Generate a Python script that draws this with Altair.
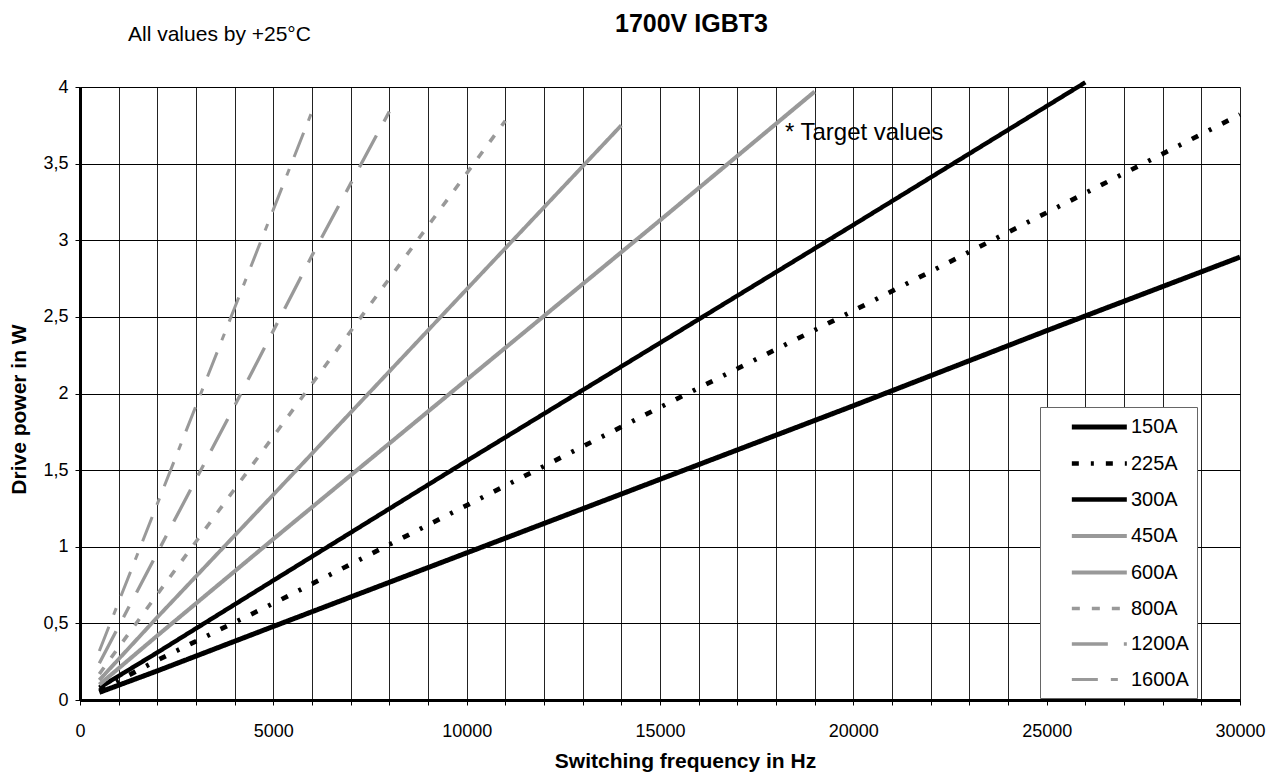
import altair as alt
import pandas as pd

FONT = "Liberation Sans"

series = ["150A", "225A", "300A", "450A", "600A", "800A", "1200A", "1600A"]

freq_150 = [500, 2000, 5000, 10000, 15000, 20000, 25000, 30000]
pow_150 = [0.05, 0.19, 0.48, 0.96, 1.44, 1.92, 2.41, 2.89]
freq_225 = [500, 2000, 5000, 10000, 15000, 20000, 25000, 30000]
pow_225 = [0.06, 0.26, 0.63, 1.27, 1.91, 2.54, 3.18, 3.82]
freq_300 = [500, 2000, 5000, 10000, 15000, 20000, 26000]
pow_300 = [0.08, 0.31, 0.78, 1.56, 2.33, 3.10, 4.03]
freq_450 = [500, 2000, 5000, 10000, 15000, 19000]
pow_450 = [0.10, 0.42, 1.05, 2.09, 3.13, 3.97]
freq_600 = [500, 2000, 5000, 10000, 14000]
pow_600 = [0.13, 0.54, 1.34, 2.68, 3.75]
freq_800 = [500, 2000, 5000, 8000, 11000]
pow_800 = [0.17, 0.69, 1.72, 2.75, 3.78]
freq_1200 = [500, 2000, 4000, 6000, 8000]
pow_1200 = [0.24, 0.96, 1.92, 2.90, 3.84]
freq_1600 = [500, 2000, 4000, 6000]
pow_1600 = [0.32, 1.28, 2.56, 3.84]

line_colors = ["#000000", "#000000", "#000000", "#999999", "#999999", "#999999", "#999999", "#999999"]
line_widths = [5, 3, 2.2, 2.2, 4.5, 2.5, 5, 3]
line_dashes = [[1, 0], [7, 12, 3, 12], [1, 0], [1, 0], [1, 0], [8, 12], [36, 16, 12, 16], [26, 13, 7, 13]]

x_grid_values = list(range(0, 30001, 1000))
y_values = [0, 0.5, 1, 1.5, 2, 2.5, 3, 3.5, 4]

title_text = "1700V IGBT3"
subtitle_text = "All values by +25°C"
note_text = "* Target values"
note_x = 18230
note_y = 3.655

all_f = [freq_150, freq_225, freq_300, freq_450, freq_600, freq_800, freq_1200, freq_1600]
all_p = [pow_150, pow_225, pow_300, pow_450, pow_600, pow_800, pow_1200, pow_1600]
rows = []
for s, fs, ps in zip(series, all_f, all_p):
    for f, p in zip(fs, ps):
        rows.append({"series": s, "f": f, "p": p})
df = pd.DataFrame(rows)

x_scale = alt.Scale(domain=[0, 30000], nice=False, zero=False)
y_scale = alt.Scale(domain=[0, 4], nice=False)

lines = alt.Chart(df).mark_line(clip=False).encode(
    x=alt.X("f:Q", scale=x_scale, axis=alt.Axis(
        values=x_grid_values, tickCount=40,
        labelExpr="datum.value % 5000 == 0 ? toString(datum.value) : ''",
        title="Switching frequency in Hz",
        titleX=605, titleY=67, titleBaseline="alphabetic",
        titleFontSize=21, titleFontWeight="bold", titleFont=FONT, titleColor="black",
        labelFontSize=18, labelFont=FONT, labelColor="black",
        labelPadding=17, labelFlush=False, labelOverlap=False,
        tickSize=5, tickColor="black", grid=True, gridColor="#222222", gridWidth=1,
        domain=True, domainColor="black", domainWidth=3,
    )),
    y=alt.Y("p:Q", scale=y_scale, axis=alt.Axis(
        values=y_values, tickCount=20,
        labelExpr="replace(toString(datum.value), '.', ',')",
        title="Drive power in W",
        titleX=-61, titleY=322, titleAngle=270, titleAlign="center", titleBaseline="middle",
        titleFontSize=21, titleFontWeight="bold", titleFont=FONT, titleColor="black",
        labelFontSize=18, labelFont=FONT, labelColor="black",
        labelPadding=7, labelFlush=False, labelOverlap=False,
        tickSize=5, tickColor="black", grid=True, gridColor="#000000", gridWidth=1,
        domain=True, domainColor="black", domainWidth=3,
    )),
    color=alt.Color("series:N", scale=alt.Scale(domain=series, range=line_colors),
                    legend=alt.Legend(
                        title=None, orient="none", legendX=960, legendY=320,
                        fillColor="white", strokeColor="#666666", padding=8,
                        symbolType="M-1,0L5,0", symbolSize=336, symbolOffset=21,
                        labelOffset=38, rowPadding=14.5,
                        labelFontSize=20, labelFont=FONT, labelColor="black",
                    )),
    strokeDash=alt.StrokeDash("series:N", scale=alt.Scale(domain=series, range=line_dashes)),
    strokeWidth=alt.StrokeWidth("series:N", scale=alt.Scale(domain=series, range=line_widths)),
    detail="series:N",
    order="f:Q",
)

note = alt.Chart(pd.DataFrame({"f": [note_x], "p": [note_y], "t": [note_text]})).mark_text(
    align="left", baseline="alphabetic", fontSize=24, font=FONT, color="black"
).encode(x=alt.X("f:Q", scale=x_scale), y=alt.Y("p:Q", scale=y_scale), text="t:N")

title = alt.Chart(pd.DataFrame({"t": [title_text]})).mark_text(
    align="left", baseline="alphabetic", fontSize=25, fontWeight="bold", font=FONT, color="black"
).encode(x=alt.value(535), y=alt.value(-55), text="t:N")

subtitle = alt.Chart(pd.DataFrame({"t": [subtitle_text]})).mark_text(
    align="left", baseline="alphabetic", fontSize=21, font=FONT, color="black"
).encode(x=alt.value(48), y=alt.value(-46), text="t:N")

chart = alt.layer(lines, note, title, subtitle).properties(
    width=1160, height=613,
    autosize=alt.AutoSizeParams(type="none"),
    padding={"left": 72, "top": 79, "right": 37, "bottom": 73},
).configure_view(stroke="black", strokeWidth=3).configure(background="white")

chart.save("out.html", embed_options={"renderer": "svg", "actions": False})
